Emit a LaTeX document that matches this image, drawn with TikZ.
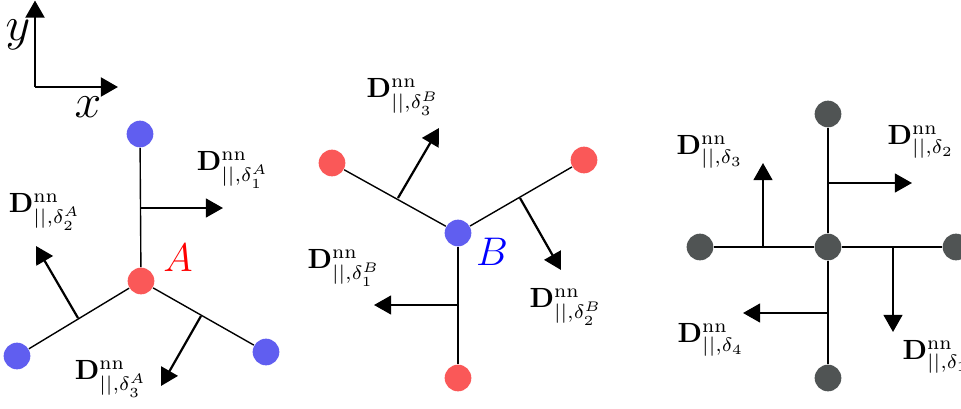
\documentclass[tikz,border=0pt]{standalone}
\usetikzlibrary{arrows.meta}
\definecolor{atomblue}{RGB}{96,94,240}
\definecolor{atomred}{RGB}{250,88,88}
\definecolor{atomgray}{RGB}{80,84,84}
\begin{document}
\begin{tikzpicture}[x=0.36pt,y=-0.36pt,
  atom/.style={circle,inner sep=0pt,minimum size=9.6pt},
  bond/.style={line width=0.5pt},
  darrow/.style={line width=0.8pt,-{Triangle[length=6.2pt,width=6.8pt]}},
  axarrow/.style={line width=1pt,-{Triangle[length=6.2pt,width=6.8pt]}},
  lab/.style={inner sep=0pt}]
\useasboundingbox (0,0) rectangle (961,409);
% axes
\coordinate (O) at (35,87);
\coordinate (ytip) at (35,0.5);
\coordinate (xtip) at (118,87);
\draw[axarrow] (O) -- (ytip);
\draw[axarrow] (O) -- (xtip);
\node[lab] (ylab) at (18,35) {\LARGE $y$};
\node[lab] (xlab) at (88,107) {\LARGE $x$};
% left molecule (A)
\node[atom,fill=atomred] (A) at (141,281) {};
\node[atom,fill=atomblue] (A1) at (140,134) {};
\node[atom,fill=atomblue] (A2) at (17,356) {};
\node[atom,fill=atomblue] (A3) at (266,352) {};
\draw[bond] (A) -- (A1);
\draw[bond] (A) -- (A2);
\draw[bond] (A) -- (A3);
\coordinate (a1s) at (140.5,208); \coordinate (a1e) at (223,208);
\coordinate (a2s) at (78,318); \coordinate (a2e) at (36,246);
\coordinate (a3s) at (201,316); \coordinate (a3e) at (161,386);
\draw[darrow] (a1s) -- (a1e);
\draw[darrow] (a2s) -- (a2e);
\draw[darrow] (a3s) -- (a3e);
\node[lab] (la) at (178,258) {\Large\color{red}$A$};
\node[lab] (lA1) at (233,170) {$\mathbf{D}^{\mathrm{nn}}_{||,\delta_1^A}$};
\node[lab] (lA2) at (45,212) {$\mathbf{D}^{\mathrm{nn}}_{||,\delta_2^A}$};
\node[lab] (lA3) at (111,379) {$\mathbf{D}^{\mathrm{nn}}_{||,\delta_3^A}$};
% middle molecule (B)
\node[atom,fill=atomblue] (B) at (458,233) {};
\node[atom,fill=atomred] (B1) at (458,378) {};
\node[atom,fill=atomred] (B2) at (584,160) {};
\node[atom,fill=atomred] (B3) at (332,163) {};
\draw[bond] (B) -- (B1);
\draw[bond] (B) -- (B2);
\draw[bond] (B) -- (B3);
\coordinate (b1s) at (458,305); \coordinate (b1e) at (374,305);
\coordinate (b2s) at (520,198); \coordinate (b2e) at (561,270);
\coordinate (b3s) at (398,198); \coordinate (b3e) at (439,128);
\draw[darrow] (b1s) -- (b1e);
\draw[darrow] (b2s) -- (b2e);
\draw[darrow] (b3s) -- (b3e);
\node[lab] (lb) at (492,252) {\Large\color{blue}$B$};
\node[lab] (lB1) at (344,268) {$\mathbf{D}^{\mathrm{nn}}_{||,\delta_1^B}$};
\node[lab] (lB2) at (566,307) {$\mathbf{D}^{\mathrm{nn}}_{||,\delta_2^B}$};
\node[lab] (lB3) at (403,97) {$\mathbf{D}^{\mathrm{nn}}_{||,\delta_3^B}$};
% right (square lattice)
\node[atom,fill=atomgray] (C) at (828,247) {};
\node[atom,fill=atomgray] (Ct) at (828,114) {};
\node[atom,fill=atomgray] (Cl) at (700,247) {};
\node[atom,fill=atomgray] (Cr) at (956,247) {};
\node[atom,fill=atomgray] (Cb) at (828,378) {};
\draw[bond] (C) -- (Ct);
\draw[bond] (C) -- (Cl);
\draw[bond] (C) -- (Cr);
\draw[bond] (C) -- (Cb);
\coordinate (c1s) at (893,247); \coordinate (c1e) at (893,332);
\coordinate (c2s) at (828,183); \coordinate (c2e) at (912,183);
\coordinate (c3s) at (763,247); \coordinate (c3e) at (763,163);
\coordinate (c4s) at (828,313); \coordinate (c4e) at (743,313);
\draw[darrow] (c1s) -- (c1e);
\draw[darrow] (c2s) -- (c2e);
\draw[darrow] (c3s) -- (c3e);
\draw[darrow] (c4s) -- (c4e);
\node[lab,anchor=west] (lC1) at (902,357) {$\mathbf{D}^{\mathrm{nn}}_{||,\delta_1}$};
\node[lab] (lC2) at (921,142) {$\mathbf{D}^{\mathrm{nn}}_{||,\delta_2}$};
\node[lab] (lC3) at (710,152) {$\mathbf{D}^{\mathrm{nn}}_{||,\delta_3}$};
\node[lab] (lC4) at (711,340) {$\mathbf{D}^{\mathrm{nn}}_{||,\delta_4}$};
\end{tikzpicture}
\end{document}
